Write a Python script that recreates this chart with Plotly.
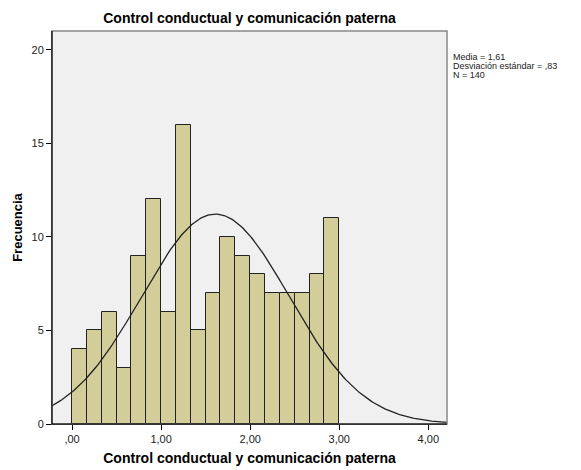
"""SPSS-style histogram with fitted normal curve."""

import numpy as np
import plotly.graph_objects as go

# Histogram data (bin width 1/6, from 0 to 3)
bin_starts = [i / 6 for i in range(18)]
counts = [4, 5, 6, 3, 9, 12, 6, 16, 5, 7, 10, 9, 8, 7, 7, 7, 8, 11]
bin_width = 1 / 6

# Summary stats shown in the legend box
mean = 1.61
sd = 0.83
n = 140
stat_lines = ["Media = 1,61", "Desviación estándar = ,83", f"N = {n}"]

tick_vals = [0, 1, 2, 3, 4]
tick_text = [",00", "1,00", "2,00", "3,00", "4,00"]

_BAR = "#D3CE99"
_FONT = "Liberation Sans, Arial, sans-serif"

centers = [s + bin_width / 2 for s in bin_starts]

# Normal curve scaled to counts
xs = np.linspace(-0.25, 4.25, 300)
ys = n * bin_width / (sd * np.sqrt(2 * np.pi)) * np.exp(-0.5 * ((xs - mean) / sd) ** 2)

fig = go.Figure()
fig.add_trace(
    go.Bar(
        x=centers,
        y=counts,
        width=bin_width,
        marker=dict(color=_BAR, line=dict(color="#222222", width=1)),
        hoverinfo="x+y",
    )
)
fig.add_trace(
    go.Scatter(
        x=xs,
        y=ys,
        mode="lines",
        line=dict(color="#222222", width=1.3),
        hoverinfo="skip",
    )
)

fig.update_layout(
    width=581,
    height=470,
    showlegend=False,
    paper_bgcolor="white",
    plot_bgcolor="#F0F0F0",
    font=dict(family=_FONT, size=11, color="#222222"),
    margin=dict(l=52, r=134, t=31, b=46),
    title=dict(
        text="<b>Control conductual y comunicación paterna</b>",
        x=(52 + 447) / 2 / 581,
        xanchor="center",
        y=0.962,
        yanchor="middle",
        font=dict(size=14, color="black"),
    ),
    bargap=0,
)

fig.update_xaxes(
    range=[-0.225, 4.21],
    tickvals=tick_vals,
    ticktext=tick_text,
    ticks="outside",
    ticklen=5,
    tickcolor="black",
    showgrid=False,
    zeroline=False,
    showline=True,
    linecolor="black",
    linewidth=1,
    automargin=False,
    title=dict(
        text="<b>Control conductual y comunicación paterna</b>",
        font=dict(size=14, color="black"),
        standoff=8,
    ),
)
fig.update_yaxes(
    range=[0, 21],
    tickvals=[0, 5, 10, 15, 20],
    ticks="outside",
    ticklen=5,
    tickcolor="black",
    showgrid=False,
    zeroline=False,
    showline=True,
    linecolor="black",
    linewidth=1,
    automargin=False,
    title=dict(
        text="<b>Frecuencia</b>",
        font=dict(size=13, color="black"),
        standoff=5,
    ),
)

# gray top/right frame like SPSS
fig.add_shape(
    type="rect", xref="paper", yref="paper", x0=0, y0=0, x1=1, y1=1,
    line=dict(color="#888888", width=1.5), layer="above",
)
fig.add_shape(
    type="line", xref="paper", yref="paper", x0=0, y0=0, x1=0, y1=1,
    line=dict(color="black", width=1), layer="above",
)
fig.add_shape(
    type="line", xref="paper", yref="paper", x0=0, y0=0, x1=1, y1=0,
    line=dict(color="black", width=1), layer="above",
)

for i, line in enumerate(stat_lines):
    fig.add_annotation(
        xref="paper", yref="paper", x=1.012, y=0.935 - i * 0.0235,
        xanchor="left", yanchor="middle", align="left", showarrow=False,
        borderpad=0,
        text=line,
        font=dict(size=9, color="#222222"),
    )

fig.write_html(
    "out.html",
    config={"displayModeBar": False},
    post_script="document.body.style.margin='0';",
)
